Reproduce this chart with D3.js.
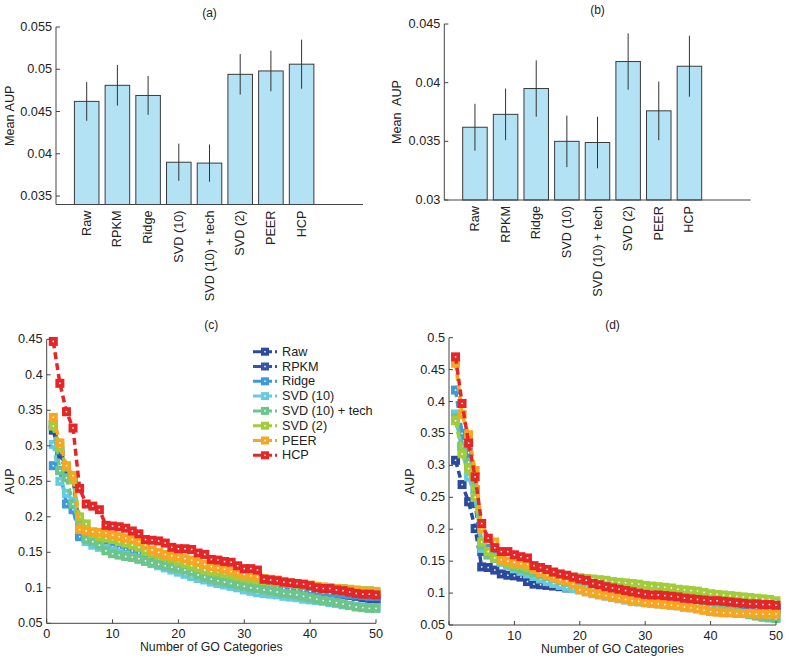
<!DOCTYPE html>
<html>
<head>
<meta charset="utf-8">
<script src="https://cdn.jsdelivr.net/npm/d3@7"></script>
<style>
html,body{margin:0;padding:0;background:#fff;}
svg{display:block;font-family:"Liberation Sans",Arial,Helvetica,sans-serif;}
</style>
</head>
<body>
<svg id="chart" width="789" height="659"></svg>
<script>
// ---------- DATA ----------
const categories = ["Raw","RPKM","Ridge","SVD (10)","SVD (10) + tech","SVD (2)","PEER","HCP"];
const colors = ["#2b4a9d","#3556a8","#3d9ad6","#67cbe0","#6dc48c","#a3cc3a","#f6a623","#e52629"];

// panel (a)
const meanA = [0.0462,0.0481,0.0469,0.0390,0.0389,0.0494,0.0498,0.0506];
const errA  = [0.0023,0.0024,0.0023,0.0022,0.0022,0.0024,0.0024,0.0029];
const ticksA = [0.035,0.04,0.045,0.05,0.055];
// panel (b)
const meanB = [0.0362,0.0373,0.0395,0.0350,0.0349,0.0418,0.0376,0.0414];
const errB  = [0.0020,0.0022,0.0024,0.0022,0.0022,0.0024,0.0025,0.0026];
const ticksB = [0.03,0.035,0.04,0.045];

// panel (c) AUP vs number of GO categories (1..50)
const rawC = [0.322,0.287,0.265,0.255,0.175,0.172,0.170,0.168,0.166,0.165,0.163,0.161,0.159,0.156,0.152,0.149,0.147,0.145,0.142,0.140,0.137,0.134,0.131,0.128,0.125,0.122,0.120,0.118,0.116,0.113,0.111,0.109,0.102,0.101,0.101,0.100,0.099,0.098,0.097,0.096,0.095,0.094,0.093,0.091,0.090,0.089,0.088,0.086,0.084,0.083];
const rpkmC = [0.330,0.292,0.268,0.257,0.178,0.174,0.171,0.168,0.167,0.166,0.164,0.162,0.160,0.157,0.153,0.150,0.148,0.146,0.143,0.141,0.138,0.135,0.132,0.129,0.126,0.124,0.122,0.120,0.117,0.115,0.112,0.110,0.104,0.103,0.102,0.101,0.100,0.099,0.098,0.097,0.096,0.095,0.094,0.093,0.092,0.090,0.089,0.088,0.086,0.085];
const ridgeC = [0.272,0.265,0.218,0.210,0.172,0.170,0.165,0.162,0.160,0.158,0.156,0.154,0.152,0.149,0.146,0.143,0.140,0.137,0.134,0.131,0.128,0.125,0.122,0.119,0.116,0.113,0.111,0.109,0.107,0.105,0.104,0.103,0.102,0.101,0.100,0.099,0.098,0.097,0.096,0.095,0.094,0.093,0.092,0.092,0.091,0.090,0.090,0.089,0.088,0.088];
const svd10C = [0.302,0.250,0.233,0.222,0.185,0.165,0.160,0.157,0.155,0.152,0.149,0.146,0.143,0.140,0.137,0.134,0.131,0.128,0.125,0.122,0.119,0.116,0.113,0.111,0.108,0.106,0.104,0.102,0.100,0.097,0.095,0.093,0.092,0.091,0.090,0.088,0.087,0.086,0.084,0.083,0.082,0.081,0.079,0.078,0.076,0.075,0.074,0.073,0.072,0.072];
const svd10tC = [0.328,0.265,0.255,0.218,0.190,0.168,0.165,0.160,0.152,0.148,0.146,0.144,0.143,0.141,0.138,0.135,0.133,0.131,0.129,0.127,0.125,0.122,0.118,0.115,0.112,0.110,0.108,0.106,0.104,0.102,0.100,0.099,0.097,0.096,0.094,0.092,0.091,0.090,0.088,0.086,0.084,0.082,0.081,0.079,0.077,0.075,0.073,0.072,0.071,0.071];
const svd2C = [0.328,0.298,0.270,0.252,0.200,0.190,0.176,0.172,0.170,0.168,0.165,0.163,0.160,0.157,0.152,0.148,0.146,0.144,0.141,0.137,0.134,0.131,0.128,0.125,0.123,0.122,0.120,0.118,0.116,0.114,0.112,0.111,0.110,0.109,0.108,0.107,0.106,0.105,0.104,0.103,0.102,0.101,0.100,0.099,0.099,0.098,0.097,0.096,0.096,0.095];
const peerC = [0.340,0.304,0.272,0.258,0.182,0.180,0.179,0.178,0.177,0.174,0.172,0.170,0.168,0.165,0.160,0.153,0.150,0.147,0.145,0.143,0.141,0.139,0.136,0.133,0.130,0.128,0.126,0.123,0.121,0.119,0.117,0.115,0.113,0.112,0.111,0.109,0.107,0.106,0.105,0.104,0.102,0.101,0.100,0.099,0.098,0.097,0.096,0.095,0.094,0.093];
const hcpC = [0.447,0.388,0.348,0.325,0.240,0.218,0.215,0.210,0.188,0.187,0.186,0.184,0.180,0.176,0.168,0.167,0.166,0.163,0.157,0.155,0.155,0.154,0.149,0.147,0.140,0.139,0.137,0.136,0.131,0.127,0.127,0.125,0.112,0.111,0.110,0.108,0.107,0.106,0.105,0.103,0.100,0.099,0.099,0.097,0.096,0.094,0.092,0.091,0.091,0.090];

// panel (d)
const rawD = [0.308,0.270,0.243,0.201,0.141,0.140,0.136,0.130,0.128,0.127,0.125,0.118,0.114,0.113,0.112,0.111,0.110,0.108,0.107,0.106,0.105,0.104,0.103,0.102,0.101,0.100,0.099,0.098,0.097,0.096,0.095,0.094,0.093,0.092,0.091,0.090,0.089,0.088,0.087,0.086,0.085,0.084,0.083,0.082,0.081,0.080,0.079,0.078,0.078,0.077];
const rpkmD = [0.380,0.330,0.300,0.240,0.165,0.160,0.155,0.150,0.146,0.143,0.140,0.137,0.133,0.130,0.127,0.124,0.121,0.118,0.115,0.112,0.110,0.108,0.106,0.104,0.102,0.100,0.099,0.098,0.097,0.096,0.095,0.094,0.093,0.092,0.091,0.090,0.089,0.088,0.087,0.086,0.085,0.084,0.083,0.082,0.081,0.080,0.079,0.078,0.077,0.076];
const ridgeD = [0.418,0.350,0.320,0.262,0.175,0.170,0.160,0.152,0.148,0.145,0.142,0.139,0.136,0.133,0.130,0.127,0.124,0.121,0.118,0.115,0.112,0.110,0.108,0.106,0.104,0.102,0.100,0.098,0.097,0.095,0.094,0.093,0.092,0.091,0.090,0.089,0.088,0.086,0.085,0.084,0.083,0.082,0.080,0.079,0.078,0.077,0.076,0.075,0.074,0.073];
const svd10D = [0.380,0.322,0.282,0.250,0.170,0.162,0.155,0.148,0.143,0.138,0.134,0.130,0.126,0.122,0.118,0.115,0.112,0.109,0.107,0.105,0.102,0.099,0.097,0.095,0.093,0.091,0.089,0.087,0.086,0.085,0.084,0.083,0.082,0.081,0.080,0.078,0.077,0.076,0.075,0.073,0.072,0.071,0.070,0.069,0.068,0.067,0.066,0.065,0.064,0.063];
const svd10tD = [0.375,0.330,0.305,0.262,0.175,0.160,0.155,0.150,0.146,0.142,0.138,0.135,0.132,0.129,0.126,0.123,0.120,0.117,0.114,0.111,0.109,0.107,0.105,0.103,0.101,0.099,0.098,0.097,0.096,0.095,0.093,0.091,0.090,0.088,0.087,0.085,0.084,0.082,0.080,0.078,0.076,0.074,0.072,0.070,0.068,0.066,0.064,0.062,0.061,0.060];
const svd2D = [0.370,0.318,0.295,0.250,0.180,0.165,0.155,0.150,0.147,0.145,0.143,0.140,0.137,0.135,0.133,0.131,0.129,0.127,0.125,0.124,0.123,0.122,0.121,0.120,0.118,0.117,0.116,0.115,0.114,0.112,0.111,0.110,0.109,0.108,0.106,0.105,0.104,0.103,0.101,0.099,0.098,0.097,0.096,0.095,0.094,0.093,0.092,0.091,0.090,0.088];
const peerD = [0.460,0.380,0.348,0.292,0.200,0.185,0.180,0.152,0.150,0.148,0.146,0.145,0.138,0.132,0.128,0.124,0.121,0.119,0.114,0.105,0.102,0.100,0.098,0.096,0.094,0.092,0.090,0.088,0.087,0.085,0.084,0.083,0.082,0.081,0.080,0.078,0.077,0.075,0.073,0.071,0.070,0.069,0.069,0.068,0.068,0.068,0.067,0.067,0.067,0.067];
const hcpD = [0.470,0.397,0.335,0.282,0.209,0.186,0.171,0.165,0.165,0.160,0.157,0.155,0.143,0.140,0.137,0.133,0.130,0.128,0.125,0.122,0.120,0.115,0.113,0.110,0.108,0.106,0.104,0.102,0.100,0.098,0.097,0.097,0.096,0.095,0.094,0.092,0.091,0.090,0.089,0.088,0.088,0.087,0.086,0.085,0.084,0.083,0.083,0.082,0.082,0.081];

const ticksXLine = [0,10,20,30,40,50];
const ticksYC = [0.05,0.1,0.15,0.2,0.25,0.3,0.35,0.4,0.45];
const ticksYD = [0.05,0.1,0.15,0.2,0.25,0.3,0.35,0.4,0.45,0.5];

const seriesC = [rawC,rpkmC,ridgeC,svd10C,svd10tC,svd2C,peerC,hcpC];
const seriesD = [rawD,rpkmD,ridgeD,svd10D,svd10tD,svd2D,peerD,hcpD];

// ---------- DRAW ----------
const svg = d3.select("#chart");
const FONT = 12.7, TXT = "#222", AX = "#444";
const fmt = v => String(+v.toFixed(3));

function yAxis(g, y, ticks, x0) {
  g.append("line").attr("x1", x0).attr("x2", x0).attr("y1", y.range()[0]).attr("y2", y.range()[1])
    .attr("stroke", AX).attr("stroke-width", 1);
  ticks.forEach(t => {
    g.append("line").attr("x1", x0).attr("x2", x0 + 4).attr("y1", y(t)).attr("y2", y(t)).attr("stroke", AX);
    g.append("text").attr("x", x0 - 4).attr("y", y(t)).attr("text-anchor", "end")
      .attr("dominant-baseline", "central").attr("font-size", FONT).attr("fill", TXT).text(fmt(t));
  });
}

function barPanel(o) {
  const g = svg.append("g");
  const x = d3.scaleLinear().domain([0, 10]).range([o.x0, o.x1]);
  const y = d3.scaleLinear().domain(o.ydom).range([o.yb, o.yt]);
  const bw = x(0.8) - x(0);
  g.selectAll("rect.bar").data(o.vals).enter().append("rect")
    .attr("x", (d, i) => x(i + 1) - bw / 2).attr("width", bw)
    .attr("y", d => y(d)).attr("height", d => y(o.ydom[0]) - y(d))
    .attr("fill", "#b3e2f5").attr("stroke", "#3a3a3a").attr("stroke-width", 1);
  g.selectAll("line.err").data(o.vals).enter().append("line")
    .attr("x1", (d, i) => x(i + 1)).attr("x2", (d, i) => x(i + 1))
    .attr("y1", (d, i) => y(d - o.err[i])).attr("y2", (d, i) => y(d + o.err[i]))
    .attr("stroke", "#333").attr("stroke-width", 1);
  // axes
  g.append("line").attr("x1", o.x0).attr("x2", o.x1).attr("y1", o.yb).attr("y2", o.yb).attr("stroke", AX);
  yAxis(g, y, o.ticks, o.x0);
  categories.forEach((c, i) => {
    g.append("text").attr("transform", `translate(${x(i + 1)},${o.yb + 6}) rotate(-90)`)
      .attr("text-anchor", "end").attr("dominant-baseline", "central")
      .attr("font-size", FONT).attr("fill", TXT).text(c);
  });
  g.append("text").attr("x", (o.x0 + o.x1) / 2).attr("y", o.titleY).attr("text-anchor", "middle")
    .attr("dominant-baseline", "central").attr("font-size", 12).attr("fill", TXT).text(o.title);
  g.append("text").attr("transform", `translate(${o.ylx},${(o.yt + o.yb) / 2}) rotate(-90)`)
    .attr("text-anchor", "middle").attr("dominant-baseline", "central")
    .attr("font-size", FONT).attr("fill", TXT).style("white-space", "pre").text(o.ylabel);
}

barPanel({x0: 56, x1: 363, yt: 27, yb: 204.5, ydom: [0.034, 0.055], vals: meanA, err: errA,
  ticks: ticksA, title: "(a)", titleY: 13, ylabel: "Mean AUP", ylx: 10});
barPanel({x0: 444.3, x1: 750.7, yt: 24, yb: 200, ydom: [0.03, 0.045], vals: meanB, err: errB,
  ticks: ticksB, title: "(b)", titleY: 10, ylabel: "Mean  AUP", ylx: 397});

function drawSeries(g, x, y, data, color) {
  const pts = data.map((v, i) => [i + 1, v]);
  const line = d3.line().x(d => x(d[0])).y(d => y(d[1]));
  g.append("path").attr("d", line(pts)).attr("fill", "none").attr("stroke", color)
    .attr("stroke-width", 3.5).attr("stroke-dasharray", "7,4");
  const s = 9;
  g.selectAll(null).data(pts).enter().append("rect")
    .attr("x", d => x(d[0]) - s / 2).attr("y", d => y(d[1]) - s / 2).attr("width", s).attr("height", s)
    .attr("fill", color);
  g.selectAll(null).data(pts).enter().append("rect")
    .attr("x", d => x(d[0]) - 0.75).attr("y", d => y(d[1]) - 0.75).attr("width", 1.5).attr("height", 1.5)
    .attr("fill", "#fff");
}

function linePanel(o) {
  const g = svg.append("g");
  const x = d3.scaleLinear().domain([0, 50]).range([o.x0, o.x1]);
  const y = d3.scaleLinear().domain(o.ydom).range([o.yb, o.yt]);
  const clipId = "clip" + o.title.replace(/\W/g, "");
  svg.append("clipPath").attr("id", clipId).append("rect")
    .attr("x", o.x0).attr("y", o.yt - 6).attr("width", o.x1 - o.x0 + 6).attr("height", o.yb - o.yt + 6);
  const pg = g.append("g").attr("clip-path", `url(#${clipId})`);
  o.series.forEach((s, i) => drawSeries(pg, x, y, s, colors[i]));
  // axes
  g.append("line").attr("x1", o.x0).attr("x2", o.x1).attr("y1", o.yb).attr("y2", o.yb).attr("stroke", AX);
  ticksXLine.forEach(t => {
    g.append("line").attr("x1", x(t)).attr("x2", x(t)).attr("y1", o.yb).attr("y2", o.yb - 4).attr("stroke", AX);
    g.append("text").attr("x", x(t)).attr("y", o.yb + 10.5).attr("text-anchor", "middle")
      .attr("dominant-baseline", "central").attr("font-size", FONT).attr("fill", TXT).text(t);
  });
  yAxis(g, y, o.ticks, o.x0);
  g.append("text").attr("x", (o.x0 + o.x1) / 2).attr("y", o.yb + 24).attr("text-anchor", "middle")
    .attr("dominant-baseline", "central").attr("font-size", 12.3).attr("fill", TXT).text("Number of GO Categories");
  g.append("text").attr("transform", `translate(${o.ylx},${(o.yt + o.yb) / 2}) rotate(-90)`)
    .attr("text-anchor", "middle").attr("dominant-baseline", "central")
    .attr("font-size", FONT).attr("fill", TXT).text("AUP");
  g.append("text").attr("x", (o.x0 + o.x1) / 2).attr("y", o.titleY).attr("text-anchor", "middle")
    .attr("dominant-baseline", "central").attr("font-size", 12).attr("fill", TXT).text(o.title);
  if (o.legend) {
    const lg = g.append("g");
    categories.forEach((c, i) => {
      const ly = 351.7 + i * 14.8;
      lg.append("line").attr("x1", 253).attr("x2", 277).attr("y1", ly).attr("y2", ly)
        .attr("stroke", colors[i]).attr("stroke-width", 3).attr("stroke-dasharray", "8,3");
      lg.append("rect").attr("x", 261).attr("y", ly - 4).attr("width", 8).attr("height", 8).attr("fill", colors[i]);
      lg.append("rect").attr("x", 264.25).attr("y", ly - 0.75).attr("width", 1.5).attr("height", 1.5).attr("fill", "#fff");
      lg.append("text").attr("x", 282).attr("y", ly).attr("dominant-baseline", "central")
        .attr("font-size", FONT).attr("fill", TXT).text(c);
    });
  }
}

linePanel({x0: 46.7, x1: 376, yt: 339.3, yb: 623.3, ydom: [0.05, 0.45], series: seriesC,
  ticks: ticksYC, title: "(c)", titleY: 325, ylx: 10, legend: true});
linePanel({x0: 449, x1: 776, yt: 337.7, yb: 625, ydom: [0.05, 0.5], series: seriesD,
  ticks: ticksYD, title: "(d)", titleY: 325, ylx: 410, legend: false});
</script>
</body>
</html>
